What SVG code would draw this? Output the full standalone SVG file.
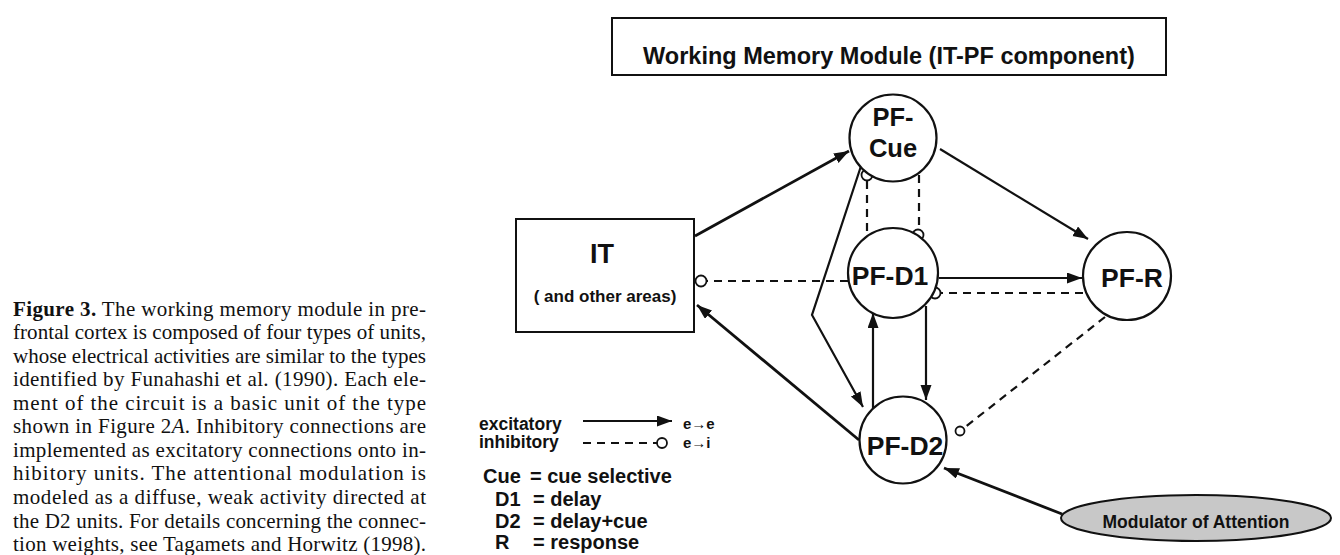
<svg xmlns="http://www.w3.org/2000/svg" width="1340" height="555" viewBox="0 0 1340 555">
<style>
.cap{font-family:"Liberation Serif","Times New Roman",serif;font-size:21px;fill:#111}
.lbl{font-family:"Liberation Sans",Arial,Helvetica,sans-serif;font-weight:bold;fill:#111}
.node{fill:#fff;stroke:#111;stroke-width:2.2}
.ex{fill:none;stroke:#111;stroke-width:2.2;marker-end:url(#ah)}
.exb{fill:none;stroke:#111;stroke-width:2.8;marker-end:url(#ah)}
.in{fill:none;stroke:#111;stroke-width:2.2;stroke-dasharray:8 6}
.ic{fill:#fff;stroke:#111;stroke-width:1.8}
</style>
<defs>
<marker id="ah" markerUnits="userSpaceOnUse" markerWidth="16" markerHeight="12" refX="15" refY="5.5" orient="auto">
<path d="M0,0 L15,5.5 L0,11 z" fill="#111"/>
</marker>
</defs>
<rect width="1340" height="555" fill="#fff"/>

<g id="caption">
<text class="cap" x="13" y="315.5" textLength="413" lengthAdjust="spacing"><tspan font-weight="bold">Figure 3.</tspan> The working memory module in pre-</text>
<text class="cap" x="13" y="339" textLength="413" lengthAdjust="spacing">frontal cortex is composed of four types of units,</text>
<text class="cap" x="13" y="362.6" textLength="413" lengthAdjust="spacing">whose electrical activities are similar to the types</text>
<text class="cap" x="13" y="386.2" textLength="413" lengthAdjust="spacing">identified by Funahashi et al. (1990). Each ele-</text>
<text class="cap" x="13" y="409.7" textLength="413" lengthAdjust="spacing">ment of the circuit is a basic unit of the type</text>
<text class="cap" x="13" y="433.3" textLength="413" lengthAdjust="spacing">shown in Figure 2<tspan font-style="italic">A</tspan>. Inhibitory connections are</text>
<text class="cap" x="13" y="456.8" textLength="413" lengthAdjust="spacing">implemented as excitatory connections onto in-</text>
<text class="cap" x="13" y="480.4" textLength="413" lengthAdjust="spacing">hibitory units. The attentional modulation is</text>
<text class="cap" x="13" y="504" textLength="413" lengthAdjust="spacing">modeled as a diffuse, weak activity directed at</text>
<text class="cap" x="13" y="527.5" textLength="413" lengthAdjust="spacing">the D2 units. For details concerning the connec-</text>
<text class="cap" x="13" y="551" textLength="413" lengthAdjust="spacing">tion weights, see Tagamets and Horwitz (1998).</text>
</g>

<g id="title">
<rect x="612" y="18" width="554" height="57" fill="#fff" stroke="#111" stroke-width="2"/>
<text class="lbl" x="889" y="64" font-size="23.5" text-anchor="middle">Working Memory Module (IT-PF component)</text>
</g>

<g id="connectors">
<line class="exb" x1="695" y1="236" x2="849" y2="151"/>
<line class="in" x1="848" y1="281" x2="707" y2="281"/>
<circle class="ic" cx="701" cy="281" r="5.5"/>
<line class="exb" x1="859" y1="440" x2="697" y2="305"/>
<polyline class="ex" points="862,163 812,315 863,407"/>
<line class="ex" x1="873" y1="408" x2="873" y2="313"/>
<line class="ex" x1="926" y1="306" x2="926" y2="400"/>
<line class="ex" x1="939" y1="278" x2="1082" y2="278"/>
<line class="in" x1="1083" y1="293" x2="941" y2="293"/>
<circle class="ic" cx="935" cy="293" r="5.5"/>
<line class="ex" x1="940" y1="149" x2="1088" y2="239"/>
<line class="in" x1="867" y1="231" x2="867" y2="181"/>
<circle class="ic" cx="867" cy="175" r="5.5"/>
<line class="in" x1="919" y1="175" x2="919" y2="229"/>
<circle class="ic" cx="918" cy="235" r="5.5"/>
<line class="in" x1="1105" y1="317" x2="964" y2="428"/>
<circle class="ic" cx="960" cy="431" r="4.5"/>
<line class="exb" x1="1062" y1="514" x2="944" y2="468"/>
</g>

<g id="IT">
<rect x="516" y="219" width="178" height="113" fill="#fff" stroke="#111" stroke-width="2"/>
<text class="lbl" x="602" y="263" font-size="27" text-anchor="middle">IT</text>
<text class="lbl" x="605" y="302" font-size="17" text-anchor="middle">( and other areas)</text>
</g>

<g id="PF-Cue">
<circle class="node" cx="893" cy="138" r="43.5"/>
<text class="lbl" x="893" y="126" font-size="25.5" text-anchor="middle">PF-</text>
<text class="lbl" x="893" y="157" font-size="25.5" text-anchor="middle">Cue</text>
</g>

<g id="PF-D1">
<circle class="node" cx="893" cy="273" r="45"/>
<text class="lbl" x="890" y="285" font-size="26.5" text-anchor="middle">PF-D1</text>
</g>

<g id="PF-R">
<circle class="node" cx="1127" cy="276" r="44"/>
<text class="lbl" x="1132" y="287" font-size="26.5" text-anchor="middle">PF-R</text>
</g>

<g id="PF-D2">
<circle class="node" cx="903" cy="440" r="43.5"/>
<text class="lbl" x="905" y="455" font-size="26.5" text-anchor="middle">PF-D2</text>
</g>

<g id="modulator">
<ellipse cx="1196" cy="518" rx="135" ry="23" fill="#c8c8c8" stroke="#111" stroke-width="2"/>
<text class="lbl" x="1196" y="528" font-size="17.5" text-anchor="middle">Modulator of Attention</text>
</g>

<g id="legend">
<text class="lbl" x="479" y="430" font-size="17.5">excitatory</text>
<text class="lbl" x="479" y="448" font-size="17.5">inhibitory</text>
<line x1="583" y1="421" x2="672" y2="421" stroke="#111" stroke-width="2.2" marker-end="url(#ah)"/>
<text class="lbl" x="683" y="429" font-size="15">e→e</text>
<line x1="583" y1="443" x2="657" y2="443" stroke="#111" stroke-width="2" stroke-dasharray="8 6"/>
<circle class="ic" cx="662" cy="443" r="5"/>
<text class="lbl" x="683" y="448" font-size="15">e→i</text>
<text class="lbl" x="483" y="483" font-size="20">Cue</text>
<text class="lbl" x="530" y="483" font-size="20">= cue selective</text>
<text class="lbl" x="495" y="506" font-size="20">D1</text>
<text class="lbl" x="533" y="506" font-size="20">= delay</text>
<text class="lbl" x="495" y="528" font-size="20">D2</text>
<text class="lbl" x="533" y="528" font-size="20">= delay+cue</text>
<text class="lbl" x="495" y="549" font-size="20">R</text>
<text class="lbl" x="533" y="549" font-size="20">= response</text>
</g>
</svg>
